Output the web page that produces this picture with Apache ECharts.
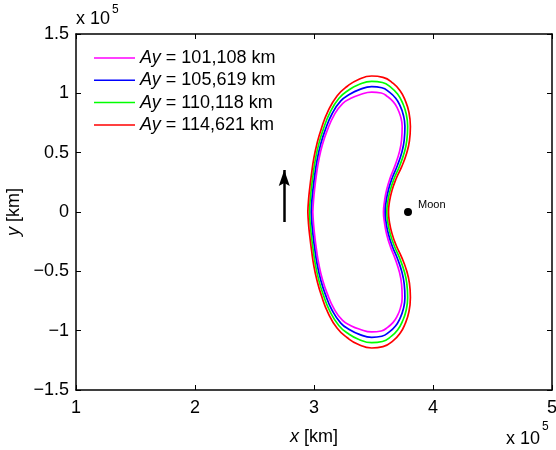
<!DOCTYPE html>
<html><head><meta charset="utf-8">
<script src="https://cdn.jsdelivr.net/npm/echarts@6/dist/echarts.min.js"></script>
<style>html,body{margin:0;padding:0;background:#fff}#c{width:556px;height:450px}</style>
</head><body><div id="c"></div>
<script>
// All coordinates in thousand km
const seriesNames = ['101,108', '105,619', '110,118', '114,621'];
const seriesColors = ['#ff00ff', '#0000ff', '#00ff00', '#ff0000'];

const magentaOrbit = [[299,0],[299.6,10],[300.6,20],[302.1,32],[304.15,44.4],[307.1,56.8],[310.9,68.2],[316.9,81.7],[324,91.4],[331,95.8],[337.9,98.6],[348.5,101.1],
  [356.5,100.3],[362.1,97],[366.5,93],[369.6,88.4],[372.6,81],[374.1,72],[373.6,60.9],[372,51.5],[368.3,39.7],[364.2,29.2],[361,18.6],[359.1,8],[358.4,0],
  [359.1,-8],[361,-18.6],[364.2,-29.2],[368.3,-39.7],[372,-51.5],[373.6,-60.9],[374.1,-72],[372.6,-81],[369.6,-88.4],[366.5,-93],[362.1,-97],[356.5,-100.3],
  [348.5,-101.1],[337.9,-98.6],[331,-95.8],[324,-91.4],[316.9,-81.7],[310.9,-68.2],[307.1,-56.8],[304.15,-44.4],[302.1,-32],[300.6,-20],[299.6,-10],[299,0]];

const blueOrbit = [[297.6,0],[298.2,10],[299.2,20],[300.7,32],[302.7,44.6],[305.6,57.2],[309.3,68.8],[315.2,82.8],[322.5,93.6],[330,99.2],[337.6,102.9],[348.5,105.6],
  [357,104.7],[363.6,100.8],[368.5,96],[371.9,90.4],[375,82],[376.4,72],[375.8,60.6],[374,51],[370.1,39.2],[365.8,28.8],[362.5,18.4],[360.5,8],[359.8,0],
  [360.5,-8],[362.5,-18.4],[365.8,-28.8],[370.1,-39.2],[374,-51],[375.8,-60.6],[376.4,-72],[375,-82],[371.9,-90.4],[368.5,-96],[363.6,-100.8],[357,-104.7],
  [348.5,-105.6],[337.6,-102.9],[330,-99.2],[322.5,-93.6],[315.2,-82.8],[309.3,-68.8],[305.6,-57.2],[302.7,-44.6],[300.7,-32],[299.2,-20],[298.2,-10],[297.6,0]];

const greenOrbit = [[296.2,0],[296.8,10],[297.8,20],[299.3,32],[301.25,44.8],[304.1,57.6],[307.7,69.4],[313.5,83.9],[321,95.8],[329,102.6],[337.3,107.2],[348.5,110.1],
  [357.5,109.1],[365.1,104.6],[370.5,99],[374.2,92.4],[377.4,83],[378.7,72],[378,60.3],[376,50.5],[371.9,38.7],[367.4,28.4],[364,18.2],[361.9,8],[361.2,0],
  [361.9,-8],[364,-18.2],[367.4,-28.4],[371.9,-38.7],[376,-50.5],[378,-60.3],[378.7,-72],[377.4,-83],[374.2,-92.4],[370.5,-99],[365.1,-104.6],[357.5,-109.1],
  [348.5,-110.1],[337.3,-107.2],[329,-102.6],[321,-95.8],[313.5,-83.9],[307.7,-69.4],[304.1,-57.6],[301.25,-44.8],[299.3,-32],[297.8,-20],[296.8,-10],[296.2,0]];

const redOrbit = [[294.8,0],[295.4,10],[296.4,20],[297.9,32],[299.8,45],[302.6,58],[306.1,70],[311.8,85],[319.5,98],[328,106],[337,111.5],[348.5,114.6],
  [358,113.5],[366.6,108.4],[372.5,102],[376.5,94.4],[379.8,84],[381,72],[380.2,60],[378,50],[373.7,38.2],[369,28],[365.5,18],[363.3,8],[362.6,0],
  [363.3,-8],[365.5,-18],[369,-28],[373.7,-38.2],[378,-50],[380.2,-60],[381,-72],[379.8,-84],[376.5,-94.4],[372.5,-102],[366.6,-108.4],[358,-113.5],
  [348.5,-114.6],[337,-111.5],[328,-106],[319.5,-98],[311.8,-85],[306.1,-70],[302.6,-58],[299.8,-45],[297.9,-32],[296.4,-20],[295.4,-10],[294.8,0]];

const orbits = [magentaOrbit, blueOrbit, greenOrbit, redOrbit];
const moonPos = [379, 0];
const arrowStart = [275, -8.4];
const arrowEnd = [275, 35.4];
const xMin = 100, xMax = 500, xStep = 100;
const yMin = -150, yMax = 150, yStep = 50;

const FONT = 'Liberation Sans, Arial, Helvetica, sans-serif';
const FS = 18;
const chart = echarts.init(document.getElementById('c'), null, {renderer: 'canvas'});

const axisCommon = {
  axisLine: {show: true, onZero: false, lineStyle: {color: '#000', width: 1.5}},
  axisTick: {show: true, inside: true, length: 5, lineStyle: {color: '#000', width: 1}},
  splitLine: {show: false}
};
const richItalic = {i: {fontStyle: 'italic', fontSize: FS, color: '#000', fontFamily: FONT}};

const orbitSeries = orbits.map((d, i) => ({
  type: 'line', name: seriesNames[i], data: d, smooth: 0.5,
  showSymbol: false, symbol: 'none',
  lineStyle: {color: seriesColors[i], width: 1.7},
  itemStyle: {color: seriesColors[i]},
  xAxisIndex: 0, yAxisIndex: 0, z: 3
}));

chart.setOption({
  animation: false,
  backgroundColor: '#fff',
  grid: {left: 76, right: 4, top: 34, bottom: 60, containLabel: false, outerBoundsMode: 'none'},
  legend: {
    data: seriesNames, orient: 'vertical', left: 89, top: 44,
    itemWidth: 41, itemHeight: 1.5, itemGap: 4.3, icon: 'rect',
    formatter: n => '{i|Ay} = ' + n + ' km',
    textStyle: {fontSize: FS, color: '#000', fontFamily: FONT, rich: richItalic}
  },
  xAxis: [
    Object.assign({type: 'value', min: xMin, max: xMax, interval: xStep, position: 'bottom',
      name: '{i|x} [km]', nameLocation: 'middle', nameGap: 38,
      nameTextStyle: {fontSize: FS, color: '#000', fontFamily: FONT, rich: richItalic},
      axisLabel: {show: true, color: '#000', fontSize: FS, fontFamily: FONT, margin: 9,
        formatter: v => String(v / 100)}}, axisCommon),
    Object.assign({type: 'value', min: xMin, max: xMax, interval: xStep, position: 'top',
      axisLabel: {show: false}}, axisCommon)
  ],
  yAxis: [
    Object.assign({type: 'value', min: yMin, max: yMax, interval: yStep, position: 'left',
      name: '{i|y} [km]', nameLocation: 'middle', nameGap: 49,
      nameTextStyle: {fontSize: FS, color: '#000', fontFamily: FONT, rich: richItalic},
      axisLabel: {show: true, color: '#000', fontSize: FS, fontFamily: FONT, margin: 7,
        formatter: v => (v < 0 ? '\u2212' : '') + String(Math.abs(v) / 100)}}, axisCommon),
    Object.assign({type: 'value', min: yMin, max: yMax, interval: yStep, position: 'right',
      axisLabel: {show: false}}, axisCommon)
  ],
  series: orbitSeries.concat([
    {type: 'lines', coordinateSystem: 'cartesian2d', xAxisIndex: 0, yAxisIndex: 0,
      data: [{coords: [arrowStart, arrowEnd]}],
      symbol: ['none', 'none'],
      lineStyle: {color: '#000', width: 2.5, opacity: 1}, z: 4},
    {type: 'scatter', name: 'arrowHead', data: [arrowEnd],
      symbol: 'path://M5,0 L10,16 L5,13 L0,16 Z', symbolSize: [11, 16], symbolOffset: [0, 8],
      itemStyle: {color: '#000', opacity: 1}, z: 5, silent: true},
    {type: 'scatter', name: 'Moon', data: [moonPos], symbol: 'circle', symbolSize: 8,
      itemStyle: {color: '#000', opacity: 1},
      label: {show: true, formatter: 'Moon', position: 'right', distance: 6, offset: [0, -7],
        fontSize: 11, color: '#000', fontFamily: FONT}, z: 4}
  ]),
  graphic: [
    {type: 'text', left: 76, top: 10, style: {text: 'x 10', fill: '#000', font: FS + 'px ' + FONT}},
    {type: 'text', left: 112, top: 4, style: {text: '5', fill: '#000', font: '12px ' + FONT}},
    {type: 'text', left: 506, top: 430, style: {text: 'x 10', fill: '#000', font: FS + 'px ' + FONT}},
    {type: 'text', left: 542, top: 421, style: {text: '5', fill: '#000', font: '12px ' + FONT}}
  ]
});
</script></body></html>
